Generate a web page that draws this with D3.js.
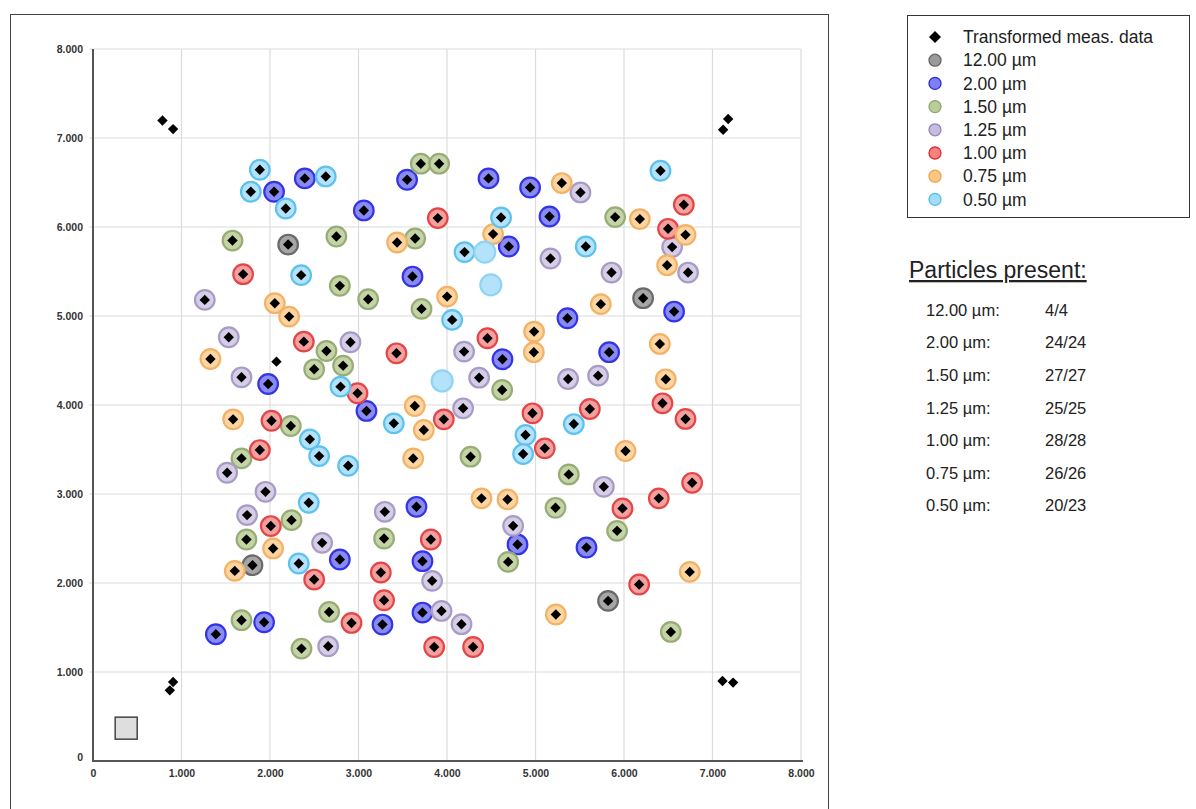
<!DOCTYPE html>
<html><head><meta charset="utf-8">
<script src="https://cdn.jsdelivr.net/npm/d3@7"></script>
<style>
body{margin:0;background:#fff;font-family:Arial,"Liberation Sans",sans-serif;}
svg{display:block}
</style></head>
<body><svg id="c" width="1196" height="809"></svg>
<script>
// ---------- DATA ----------
const sizeLabels = ["12.00 µm","2.00 µm","1.50 µm","1.25 µm","1.00 µm","0.75 µm","0.50 µm"];
const presentCounts = ["4/4","24/24","27/27","25/25","28/28","26/26","20/23"];
const axisTicks = [0,1,2,3,4,5,6,7,8];

// particle positions [x, y] per size; third value 0 = not found (no measured point)
const p1200 = [[2.205,5.803],[6.216,5.2],[1.802,2.2],[5.82,1.799]];
const p200 = [[2.046,6.396],[2.393,6.546],[3.549,6.531],[4.469,6.546],[4.939,6.444],[3.06,6.186],
  [5.158,6.118],[4.698,5.781],[3.61,5.443],[6.566,5.05],[5.361,4.975],[5.832,4.593],[4.627,4.514],
  [1.979,4.236],[3.09,3.933],[3.655,2.856],[2.789,2.264],[3.723,2.245],[1.933,1.559],[1.388,1.424],
  [3.271,1.533],[3.723,1.668],[4.797,2.433],[5.576,2.399]];
const p150 = [[3.704,6.711],[3.911,6.711],[5.90,6.111],[1.576,5.848],[2.75,5.893],[3.64,5.871],
  [2.789,5.339],[3.109,5.189],[3.712,5.08],[2.638,4.607],[2.499,4.401],[2.826,4.442],[4.623,4.169],
  [2.235,3.764],[1.678,3.40],[4.266,3.419],[5.376,3.22],[5.226,2.845],[2.243,2.706],[1.734,2.489],
  [3.289,2.5],[4.691,2.237],[5.922,2.586],[2.668,1.675],[1.678,1.582],[2.356,1.263],[6.529,1.45]];
const p125 = [[5.508,6.388],[5.169,5.646],[6.544,5.774],[5.859,5.488],[6.724,5.488],[1.263,5.181],
  [1.534,4.761],[2.909,4.705],[4.193,4.6],[1.678,4.311],[4.363,4.307],[5.368,4.292],[5.707,4.33],
  [4.182,3.963],[1.516,3.239],[1.949,3.025],[5.772,3.081],[1.741,2.763],[3.297,2.80],[4.747,2.642],
  [2.589,2.451],[3.832,2.024],[2.657,1.289],[3.938,1.686],[4.164,1.537]];
const p100 = [[3.896,6.10],[6.676,6.25],[6.498,5.98],[1.696,5.47],[2.382,4.712],[4.457,4.75],
  [3.429,4.581],[2.989,4.132],[4.966,3.907],[3.964,3.839],[2.017,3.823],[1.885,3.494],[5.105,3.513],
  [6.435,4.019],[5.614,3.955],[6.695,3.843],[6.77,3.126],[6.393,2.951],[5.983,2.838],[2.009,2.64],
  [2.499,2.039],[3.817,2.489],[3.252,2.118],[3.289,1.806],[2.921,1.551],[3.855,1.281],[4.295,1.281],
  [6.171,1.983]];
const p075 = [[5.297,6.494],[6.179,6.089],[6.695,5.912],[6.487,5.571],[3.436,5.826],[4.521,5.92],
  [4.001,5.218],[2.054,5.144],[2.216,4.993],[1.327,4.517],[4.984,4.825],[4.981,4.593],[5.738,5.133],
  [6.405,4.686],[6.472,4.289],[1.583,3.839],[3.636,3.989],[3.738,3.719],[3.618,3.40],[6.017,3.483],
  [4.39,2.951],[4.684,2.939],[2.035,2.388],[1.602,2.136],[5.23,1.646],[6.743,2.125]];
const p050 = [[1.885,6.643],[1.783,6.396],[2.63,6.568],[2.178,6.208],[6.412,6.632],[2.352,5.459],
  [4.611,6.107],[4.198,5.718],[5.568,5.781],[4.058,4.956],[2.797,4.206],[2.45,3.614],[2.555,3.426],
  [3.399,3.794],[5.433,3.786],[4.887,3.663],[4.86,3.449],[2.883,3.317],[2.438,2.901],[2.325,2.219],
  [4.427,5.718,0],[4.495,5.35,0],[3.945,4.27,0]];

// extra transformed measurement points (alignment marks)
const markerPoints = [[0.785,7.197],[0.905,7.10],[7.177,7.214],[7.12,7.093],[2.073,4.487],
  [0.905,0.888],[0.868,0.794],[7.113,0.899],[7.233,0.881]];
// origin reference square
const refSquare = [[0.375,0.369]];

const particleSets = [p1200,p200,p150,p125,p100,p075,p050];
const ringColors = ["#6a6a6a","#3434e4","#98ad76","#a89bc6","#e44646","#f3b266","#5cc2ef"];
const fillColors = ["#a6a6a6","#8a8af5","#c4d4a6","#d6cee7","#f4a0a0","#fdd5a2","#b4e2fa"];
const legRing   = ["#666666","#2a2ad0","#8ea468","#9486b8","#d83030","#eaa450","#55bbe8"];
const legFill   = ["#9a9a9a","#7f7ff8","#b9cd9a","#c6bce0","#f48282","#ffc684","#a2dcf8"];

// ---------- DRAW ----------
const svg = d3.select("#c");
const x = d3.scaleLinear().domain([0,8]).range([93,801]);
const y = d3.scaleLinear().domain([0,8]).range([761,49]);

// outer frame (bottom edge runs past the picture)
svg.append("rect").attr("x",10.5).attr("y",14.5).attr("width",818).attr("height",810)
  .attr("fill","none").attr("stroke","#444").attr("stroke-width",1);

// grid
const g = svg.append("g");
g.selectAll("line.gx").data(axisTicks.slice(1)).join("line")
  .attr("x1",d=>x(d)).attr("x2",d=>x(d)).attr("y1",y(8)).attr("y2",y(0))
  .attr("stroke","#dcdcdc").attr("stroke-width",1.2);
g.selectAll("line.gy").data(axisTicks.slice(1)).join("line")
  .attr("x1",x(0)-4).attr("x2",x(8)).attr("y1",d=>y(d)).attr("y2",d=>y(d))
  .attr("stroke","#dcdcdc").attr("stroke-width",1.2);

const fmt = d => d===0 ? "0" : d3.format(".3f")(d);
const ax = svg.append("g").attr("transform",`translate(0,${y(0)})`)
  .call(d3.axisBottom(x).tickValues(axisTicks).tickFormat(fmt).tickSize(0).tickPadding(9));
const ay = svg.append("g").attr("transform",`translate(${x(0)},0)`)
  .call(d3.axisLeft(y).tickValues(axisTicks).tickFormat(fmt).tickSize(0).tickPadding(10));
[ax,ay].forEach(a=>{
  a.select(".domain").remove();
  a.selectAll("text").attr("font-size",10.5).attr("font-family","Arial, 'Liberation Sans', sans-serif")
    .attr("fill","#333").attr("font-weight","bold");
});
ay.selectAll("text").attr("dy",d=>d===0?"-0.05em":"0.32em");
svg.append("line").attr("x1",x(0)).attr("x2",x(0)).attr("y1",y(8)).attr("y2",y(0)+1)
  .attr("stroke","#555").attr("stroke-width",2);
svg.append("line").attr("x1",x(0)-1).attr("x2",x(8)+2).attr("y1",y(0)).attr("y2",y(0))
  .attr("stroke","#555").attr("stroke-width",2.2);

// reference square
svg.selectAll("rect.ref").data(refSquare).join("rect")
  .attr("x",d=>x(d[0])-11).attr("y",d=>y(d[1])-11).attr("width",22).attr("height",22)
  .attr("fill","#dedede").attr("stroke","#444").attr("stroke-width",1.5);

// particles
particleSets.forEach((set,i)=>{
  svg.append("g").selectAll("circle").data(set).join("circle")
    .attr("cx",d=>x(d[0])).attr("cy",d=>y(d[1]))
    .attr("r",d=>d[2]===0?10.5:9.8)
    .attr("fill",fillColors[i])
    .attr("stroke",d=>d[2]===0?"#8fd4f4":ringColors[i])
    .attr("stroke-width",2.2);
});

// diamonds
const diamond = (cx,cy,h) => `M${cx},${cy-h}L${cx+h},${cy}L${cx},${cy+h}L${cx-h},${cy}Z`;
const measured = [];
particleSets.forEach(set=>set.forEach(d=>{ if(d[2]!==0) measured.push(d); }));
markerPoints.forEach(d=>measured.push(d));
svg.append("g").selectAll("path").data(measured).join("path")
  .attr("d",d=>diamond(x(d[0]),y(d[1]),5.2)).attr("fill","#000");

// legend
const leg = svg.append("g");
leg.append("rect").attr("x",907.5).attr("y",15.5).attr("width",282).attr("height",202)
  .attr("fill","#fff").attr("stroke","#333").attr("stroke-width",1);
const legY0 = 37, legDy = 23.2;
leg.append("path").attr("d",diamond(935,legY0,6)).attr("fill","#000");
leg.append("text").attr("x",963).attr("y",legY0).attr("dy","0.35em")
  .attr("font-size",17.5).attr("fill","#222").text("Transformed meas. data");
sizeLabels.forEach((s,i)=>{
  const yy = legY0 + legDy*(i+1);
  leg.append("circle").attr("cx",935).attr("cy",yy).attr("r",6)
    .attr("fill",legFill[i]).attr("stroke",legRing[i]).attr("stroke-width",1.3);
  leg.append("text").attr("x",963).attr("y",yy).attr("dy","0.35em")
    .attr("font-size",17.5).attr("fill","#222").text(s);
});

// particles present table
svg.append("text").attr("x",909).attr("y",278).attr("font-size",23).attr("fill","#222")
  .attr("text-decoration","underline").text("Particles present:");
sizeLabels.forEach((s,i)=>{
  const yy = 310 + 32.6*i;
  svg.append("text").attr("x",926).attr("y",yy).attr("dy","0.35em").attr("font-size",16.5)
    .attr("fill","#222").text(s+":");
  svg.append("text").attr("x",1045).attr("y",yy).attr("dy","0.35em").attr("font-size",16.5)
    .attr("fill","#222").text(presentCounts[i]);
});
</script></body></html>
